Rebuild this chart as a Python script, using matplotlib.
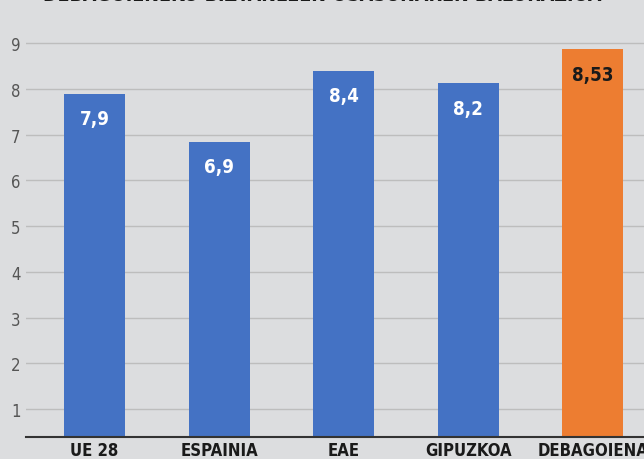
import matplotlib
matplotlib.use("Agg")
import matplotlib.pyplot as plt

# data
categories = ["UE 28", "ESPAINIA", "EAE", "GIPUZKOA", "DEBAGOIENA"]
bar_heights = [7.9, 6.85, 8.4, 8.13, 8.87]
value_labels = ["7,9", "6,9", "8,4", "8,2", "8,53"]
bar_colors = ["#4472c4", "#4472c4", "#4472c4", "#4472c4", "#ed7d31"]
label_colors = ["white", "white", "white", "white", "#1a1a1a"]
y_ticks = [1, 2, 3, 4, 5, 6, 7, 8, 9]
title = "DEBAGOIENEKO BIZTANLEEN OSASUNAREN BALORAZIOA"

plt.rcParams['font.family'] = ['DejaVu Sans']
plt.rcParams['font.stretch'] = 'condensed'
bg = "#dcdddf"

fig = plt.figure(figsize=(6.44, 4.6), dpi=100, facecolor=bg)
ax = fig.add_axes([26/644, 22/460, 1 - 26/644, 1 - 22/460])
ax.set_facecolor(bg)

x = list(range(len(categories)))
ax.bar(x, bar_heights, width=0.49, color=bar_colors, zorder=3)

for xi, h, lab, c in zip(x, bar_heights, value_labels, label_colors):
    ax.annotate(lab, (xi, h), xytext=(0, -25), textcoords="offset pixels",
                ha="center", va="center", fontsize=13.5, fontweight="bold",
                fontstretch="condensed", color=c, zorder=4)

ax.set_xlim(-0.55, 4.41)
ax.set_ylim(0.385, 9.97)
ax.set_yticks(y_ticks)
ax.set_yticklabels([str(t) for t in y_ticks], fontsize=12, color="#555555",
                   fontstretch="condensed")
ax.set_xticks(x)
ax.set_xticklabels(categories, fontsize=12, fontweight="bold", color="#1a1a1a",
                   fontstretch="condensed")
ax.tick_params(axis="both", length=0)
ax.tick_params(axis="x", pad=3)
ax.tick_params(axis="y", pad=4)

ax.grid(axis="y", color="#bdbdbd", linewidth=1, zorder=0)
for s in ["left", "right", "top"]:
    ax.spines[s].set_visible(False)
ax.spines["bottom"].set_color("#333333")
ax.spines["bottom"].set_linewidth(1.5)
ax.spines["bottom"].set_zorder(5)

# title sits mostly above the top edge, as in the cropped original
fig.text(0.5, 1 - 1/460, title, ha="center", va="baseline", fontsize=14,
         fontweight="bold", fontstretch="condensed", color="#1a1a1a")

fig.savefig("out.png", dpi=100, facecolor=bg)
